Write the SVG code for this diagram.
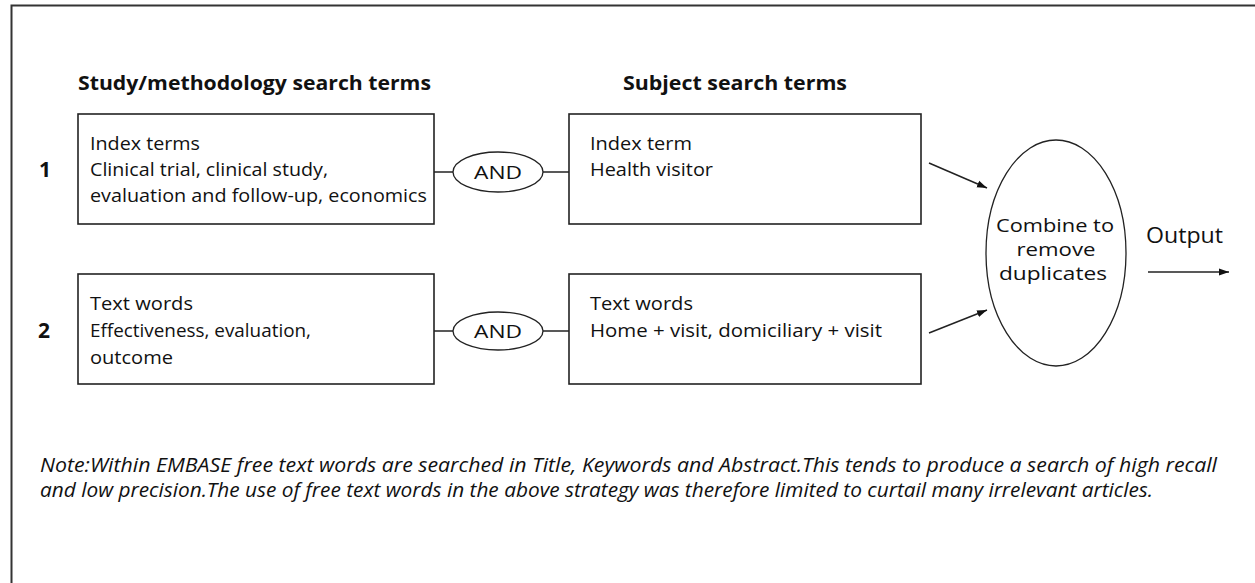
<svg xmlns="http://www.w3.org/2000/svg" width="1255" height="583" viewBox="0 0 1255 583">
<style>
.box{fill:#fff;stroke:#222;stroke-width:1.6}
.ell{fill:#fff;stroke:#222;stroke-width:1.3}
.ln{fill:none;stroke:#222;stroke-width:1.5}
text{font-family:"Open Sans","Liberation Sans",sans-serif;fill:#111}
.t{font-size:19px}
.c{font-size:18px}
.h{font-size:19px;font-weight:bold}
.n{font-size:21px;font-weight:bold}
.note{font-size:19.5px;font-style:italic}
</style>
<defs>
<marker id="ah" viewBox="0 0 10 10" refX="10" refY="5" markerWidth="10" markerHeight="10" markerUnits="userSpaceOnUse" orient="auto">
<path d="M0,1.5 L10,5 L0,8.5 Z" fill="#111"/>
</marker>
</defs>
<rect width="1255" height="583" fill="#fff"/>
<path d="M11.5,583 V5.5 H1255" fill="none" stroke="#333" stroke-width="2"/>
<text class="h" x="78" y="90" textLength="353" lengthAdjust="spacingAndGlyphs">Study/methodology search terms</text>
<text class="h" x="623" y="90" textLength="224" lengthAdjust="spacingAndGlyphs">Subject search terms</text>
<text class="n" x="39" y="177">1</text>
<text class="n" x="38" y="338">2</text>
<g id="connectors">
<line class="ln" x1="434" y1="172" x2="453" y2="172"/>
<line class="ln" x1="543" y1="172" x2="569" y2="172"/>
<line class="ln" x1="434" y1="331" x2="453" y2="331"/>
<line class="ln" x1="543" y1="331" x2="569" y2="331"/>
<line class="ln" x1="929" y1="163" x2="987" y2="188" marker-end="url(#ah)"/>
<line class="ln" x1="929" y1="333" x2="987" y2="310" marker-end="url(#ah)"/>
<line class="ln" x1="1148" y1="272" x2="1229" y2="272" marker-end="url(#ah)"/>
</g>
<g id="study1">
<rect class="box" x="78" y="114" width="356" height="110"/>
<text class="t" x="90" y="150" textLength="110" lengthAdjust="spacingAndGlyphs">Index terms</text>
<text class="t" x="90" y="176" textLength="238" lengthAdjust="spacingAndGlyphs">Clinical trial, clinical study,</text>
<text class="t" x="90" y="202" textLength="337" lengthAdjust="spacingAndGlyphs">evaluation and follow-up, economics</text>
</g>
<g id="and1">
<ellipse class="ell" cx="498" cy="172" rx="45" ry="20"/>
<text class="t" x="498" y="179" text-anchor="middle" textLength="48" lengthAdjust="spacingAndGlyphs">AND</text>
</g>
<g id="subject1">
<rect class="box" x="569" y="114" width="352" height="110"/>
<text class="t" x="590" y="150" textLength="102" lengthAdjust="spacingAndGlyphs">Index term</text>
<text class="t" x="590" y="176" textLength="123" lengthAdjust="spacingAndGlyphs">Health visitor</text>
</g>
<g id="study2">
<rect class="box" x="78" y="274" width="356" height="110"/>
<text class="t" x="90" y="310" textLength="103" lengthAdjust="spacingAndGlyphs">Text words</text>
<text class="t" x="90" y="337" textLength="221" lengthAdjust="spacingAndGlyphs">Effectiveness, evaluation,</text>
<text class="t" x="90" y="364" textLength="83" lengthAdjust="spacingAndGlyphs">outcome</text>
</g>
<g id="and2">
<ellipse class="ell" cx="498" cy="331" rx="45" ry="19"/>
<text class="t" x="498" y="338" text-anchor="middle" textLength="48" lengthAdjust="spacingAndGlyphs">AND</text>
</g>
<g id="subject2">
<rect class="box" x="569" y="274" width="352" height="110"/>
<text class="t" x="590" y="310" textLength="103" lengthAdjust="spacingAndGlyphs">Text words</text>
<text class="t" x="590" y="337" textLength="292" lengthAdjust="spacingAndGlyphs">Home + visit, domiciliary + visit</text>
</g>
<g id="combine">
<ellipse class="ell" cx="1056" cy="253" rx="70" ry="113"/>
<text class="c" x="1055" y="232" text-anchor="middle" textLength="118" lengthAdjust="spacingAndGlyphs">Combine to</text>
<text class="c" x="1056" y="256" text-anchor="middle" textLength="79" lengthAdjust="spacingAndGlyphs">remove</text>
<text class="c" x="1053" y="280" text-anchor="middle" textLength="108" lengthAdjust="spacingAndGlyphs">duplicates</text>
</g>
<g id="output">
<text class="t" x="1146" y="243" style="font-size:22px" textLength="77" lengthAdjust="spacingAndGlyphs">Output</text>
</g>
<text class="note" x="40" y="472" textLength="1177" lengthAdjust="spacingAndGlyphs">Note:Within EMBASE free text words are searched in Title, Keywords and Abstract.This tends to produce a search of high recall</text>
<text class="note" x="40" y="497" textLength="1113" lengthAdjust="spacingAndGlyphs">and low precision.The use of free text words in the above strategy was therefore limited to curtail many irrelevant articles.</text>
</svg>
